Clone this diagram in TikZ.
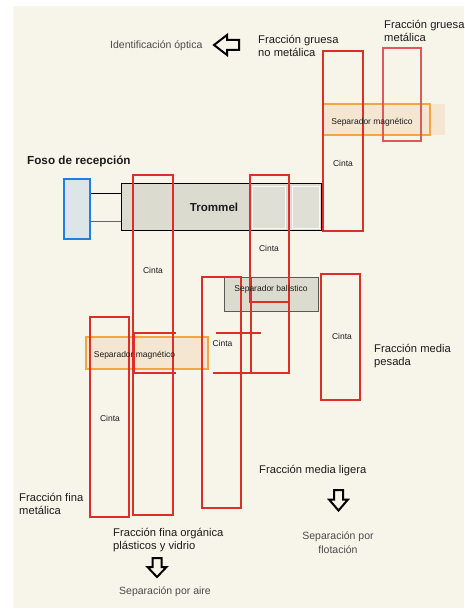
\documentclass[tikz,border=0pt]{standalone}
\usepackage{fontspec}
\setmainfont{Liberation Sans}
\usetikzlibrary{positioning}
\definecolor{crema}{HTML}{F7F4E9}
\definecolor{rojo}{HTML}{DD2E2A}
\definecolor{rosa}{HTML}{E05858}
\definecolor{naranja}{HTML}{F4A540}
\definecolor{melocoton}{HTML}{F4E6D0}
\definecolor{gristrommel}{HTML}{DCDBD0}
\definecolor{azul}{HTML}{1E80E6}
\definecolor{azulclaro}{HTML}{DCE6E7}
\definecolor{texto}{HTML}{1C1C1C}
\definecolor{textogris}{HTML}{4A4A4A}

\begin{document}
\begin{tikzpicture}[x=1pt,y=-1pt,
 cinta/.style={draw=rojo,line width=1.2pt},
 cintatxt/.style={inner sep=0pt,text=texto,font=\fontsize{8.5}{10}\selectfont},
 etiqueta/.style={inner sep=0pt,anchor=west,align=left,text=texto,font=\fontsize{11.2}{13}\selectfont},
 destino/.style={inner sep=0pt,text=textogris,font=\fontsize{10.5}{14.5}\selectfont},
 flecha/.style={draw=black,line width=2pt,fill=crema,line join=miter},
 separador/.style={draw=naranja,line width=1.2pt,fill=melocoton}]
 % fondo
 \fill[white] (0,0) rectangle (464,609);
 \fill[crema] (13,6) rectangle (464,608);
 \useasboundingbox (0,0) rectangle (464,609);

 % separadores
 \fill[melocoton] (323,104) rectangle (445,135);
 \node[separador,minimum width=107pt,minimum height=31pt] (sepmag1) at (376.5,119.5) {};
 \node[separador,minimum width=122pt,minimum height=32pt] (sepmag2) at (147,353) {};
 \node[draw=black!65,fill=gristrommel,minimum width=94pt,minimum height=34pt] (sepbal) at (271,294) {};

 % foso y trommel
 \node[draw=azul,line width=2pt,fill=azulclaro,minimum width=26pt,minimum height=60pt] (foso) at (77,209) {};
 \node[draw=black,line width=0.9pt,fill=gristrommel,minimum width=200pt,minimum height=47pt] (trommel) at (221,206.5) {};
 \fill[gristrommel!88!white,draw=white!80!gristrommel] (252,186) rectangle (285,228);
 \fill[gristrommel!88!white,draw=white!80!gristrommel] (292,186) rectangle (319,228);
 \draw[line width=1pt] (foso.east |- 0,194) -- (trommel.west |- 0,194);
 \draw[line width=1pt,black!60] (foso.east |- 0,222) -- (trommel.west |- 0,222);

 % cintas
 \draw[cinta] (133,175) rectangle (173,515);
 \draw[cinta] (250,175) rectangle (289,302);
 \draw[cinta] (323,51) rectangle (363,231);
 \draw[cinta,draw=rosa] (383,48) rectangle (421,141);
 \draw[cinta] (321,274) rectangle (360,400);
 \draw[cinta] (90,317) rectangle (129,517);
 \draw[cinta] (202,277) rectangle (241,508);
 \draw[cinta] (251,277) -- (251,373) -- (289,373) -- (289,277);
 \draw[cinta] (176,333) -- (134,333) -- (134,373) -- (176,373);
 \draw[cinta] (216,333) -- (261,333);
 \draw[cinta] (213,373) -- (251,373);

 % textos de las cintas
 \node[cintatxt] (c1) at (153,270) {Cinta};
 \node[cintatxt] (c2) at (269,248) {Cinta};
 \node[cintatxt] (c3) at (343,163) {Cinta};
 \node[cintatxt] (c4) at (342,336) {Cinta};
 \node[cintatxt] (c5) at (110,418) {Cinta};
 \node[cintatxt] (c6) at (222.5,343) {Cinta};
 \node[cintatxt] (sm1txt) at (372,122) {Separador magnético};
 \node[cintatxt] (sm2txt) at (134.5,355) {Separador magnético};
 \node[cintatxt] (sbtxt) at (271,289) {Separador balístico};

 % titulos
 \node[inner sep=0pt,anchor=west,text=texto,font=\fontsize{11.7}{14}\selectfont\bfseries] (fosotxt) at (27,161) {Foso de recepción};
 \node[inner sep=0pt,text=texto,font=\fontsize{11.6}{14}\selectfont\bfseries] (trommeltxt) at (214,207) {Trommel};

 % fracciones
 \node[etiqueta] (fgnm) at (258,45.5) {Fracción gruesa\\no metálica};
 \node[etiqueta] (fgm) at (384,30.5) {Fracción gruesa\\metálica};
 \node[etiqueta] (fmp) at (374,356) {Fracción media\\pesada};
 \node[etiqueta] (fml) at (259,471) {Fracción media ligera};
 \node[etiqueta] (ffm) at (19,504) {Fracción fina\\metálica};
 \node[etiqueta] (ffo) at (113,540) {Fracción fina orgánica\\plásticos y vidrio};

 % destinos
 \node[destino,anchor=west] (optica) at (110,46) {Identificación óptica};
 \node[destino,align=center] (flotacion) at (338,542.5) {Separación por\\flotación};
 \node[destino,anchor=west] (aire) at (119,592) {Separación por aire};

 % flechas
 \draw[flecha] (214,45) -- (227,35) -- (227,40) -- (239,40) -- (239,50) -- (227,50) -- (227,55) -- cycle;
 \draw[flecha] (334,490) -- (343,490) -- (343,499.5) -- (348,499.5) -- (338.5,510.5) -- (329,499.5) -- (334,499.5) -- cycle;
 \draw[flecha] (152.5,558) -- (161.5,558) -- (161.5,567) -- (166.5,567) -- (157,577) -- (147.5,567) -- (152.5,567) -- cycle;
\end{tikzpicture}
\end{document}
